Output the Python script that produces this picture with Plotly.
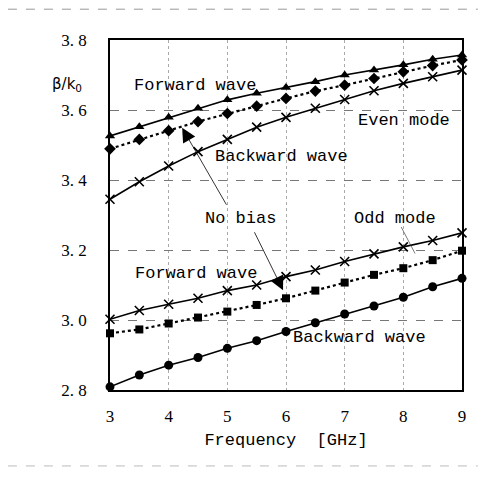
import plotly.graph_objects as go

freq = [3, 3.5, 4, 4.5, 5, 5.5, 6, 6.5, 7, 7.5, 8, 8.5, 9]

even_forward = [3.526, 3.552, 3.579, 3.605, 3.629, 3.648, 3.664, 3.681, 3.700, 3.714, 3.729, 3.745, 3.757]
even_nobias = [3.489, 3.516, 3.541, 3.567, 3.590, 3.611, 3.633, 3.654, 3.671, 3.690, 3.709, 3.727, 3.743]
even_backward = [3.345, 3.395, 3.440, 3.481, 3.516, 3.551, 3.579, 3.605, 3.630, 3.655, 3.676, 3.695, 3.714]
odd_forward = [3.002, 3.027, 3.045, 3.062, 3.084, 3.100, 3.124, 3.143, 3.167, 3.189, 3.209, 3.227, 3.249]
odd_nobias = [2.962, 2.973, 2.990, 3.007, 3.024, 3.043, 3.062, 3.084, 3.107, 3.129, 3.148, 3.171, 3.198]
odd_backward = [2.809, 2.843, 2.871, 2.893, 2.919, 2.941, 2.967, 2.992, 3.017, 3.040, 3.065, 3.095, 3.119]

x_ticks = [3, 4, 5, 6, 7, 8, 9]
y_ticks = [2.8, 3.0, 3.2, 3.4, 3.6, 3.8]
y_ticktext = ["2.\u00a08", "3.\u00a00", "3.\u00a02", "3.\u00a04", "3.\u00a06", "3.\u00a08"]

MONO = '"Liberation Mono", "Courier New", monospace'
SERIF = '"Liberation Serif", "Times New Roman", serif'

fig = go.Figure()

def add(y, symbol, dash, size, lw=1.6):
    marker = dict(symbol=symbol, size=size, color="black")
    if symbol.startswith("x"):
        marker["line"] = dict(width=1.6, color="black")
    fig.add_trace(go.Scatter(x=freq, y=y, mode="lines+markers",
                             line=dict(color="black", width=lw, dash=dash),
                             marker=marker, showlegend=False, cliponaxis=False))

add(even_forward, "triangle-up", "solid", 9)
add(even_nobias, "diamond", "dot", 9, 2.2)
add(even_backward, "x-thin", "solid", 9)
add(odd_forward, "x-thin", "solid", 9)
add(odd_nobias, "square", "dot", 8, 2.2)
add(odd_backward, "circle", "solid", 9)

labels = [
    ("Forward wave", 4.45, 3.671),
    ("Even mode", 8.01, 3.571),
    ("Backward wave", 5.93, 3.466),
    ("No bias", 5.216, 3.291),
    ("Odd mode", 7.86, 3.291),
    ("Forward wave", 4.466, 3.134),
    ("Backward wave", 7.26, 2.949),
]
for t, x, y in labels:
    fig.add_annotation(x=x, y=y, text=t.replace(" ", "\u00a0"), showarrow=False,
                       xref="x", yref="y",
                       font=dict(family=MONO, size=17, color="black"),
                       bgcolor="rgba(0,0,0,0)")

# arrows from "No bias"
fig.add_annotation(x=4.23, y=3.549, ax=5.0, ay=3.325, xref="x", yref="y",
                   axref="x", ayref="y", text="", showarrow=True,
                   arrowhead=2, arrowsize=3.5, arrowwidth=0.8, arrowcolor="black")
fig.add_annotation(x=5.95, y=3.085, ax=5.45, ay=3.255, xref="x", yref="y",
                   axref="x", ayref="y", text="", showarrow=True,
                   arrowhead=2, arrowsize=3.5, arrowwidth=0.8, arrowcolor="black")
# leader line from "Odd mode"
fig.add_annotation(x=8.2, y=3.19, ax=7.95, ay=3.27, xref="x", yref="y",
                   axref="x", ayref="y", text="", showarrow=True,
                   arrowhead=0, arrowwidth=0.7, arrowcolor="#444")

fig.add_annotation(x=-0.17, y=0.906, xref="paper", yref="paper",
                   text="β/k<sub>0</sub>", showarrow=False,
                   font=dict(family="DejaVu Sans", size=15, color="black"))

# scan page border lines
fig.add_shape(type="line", xref="paper", yref="paper", x0=-0.29, x1=1.045,
              y0=1.088, y1=1.088, line=dict(color="#999", width=1, dash="dash"))
fig.add_shape(type="line", xref="paper", yref="paper", x0=-0.29, x1=1.045,
              y0=-0.217, y1=-0.217, line=dict(color="#bbb", width=1, dash="dash"))

fig.update_xaxes(range=[3, 9], tickvals=x_ticks, showline=True, mirror=True,
                 linecolor="black", linewidth=1.5, ticks="outside", ticklen=10,
                 tickcolor="rgba(0,0,0,0)", showgrid=True, gridcolor="#aaa",
                 griddash="dot", gridwidth=1, zeroline=False,
                 tickfont=dict(family=SERIF, size=17, color="black"),
                 title=dict(text="Frequency\u00a0\u00a0[GHz]", standoff=8,
                            font=dict(family=MONO, size=17, color="black")))
fig.update_yaxes(range=[2.8, 3.8], tickvals=y_ticks, ticktext=y_ticktext,
                 showline=True, mirror=True, linecolor="black", linewidth=1.5,
                 ticks="outside", ticklen=18, tickcolor="rgba(0,0,0,0)",
                 showgrid=True, gridcolor="#777", griddash="dash", gridwidth=1,
                 zeroline=False,
                 tickfont=dict(family=SERIF, size=17, color="black"))

fig.update_layout(width=470, height=474, paper_bgcolor="white",
                  plot_bgcolor="white",
                  margin=dict(l=102, r=16, t=32, b=92, pad=0))

fig.write_html("out.html")
